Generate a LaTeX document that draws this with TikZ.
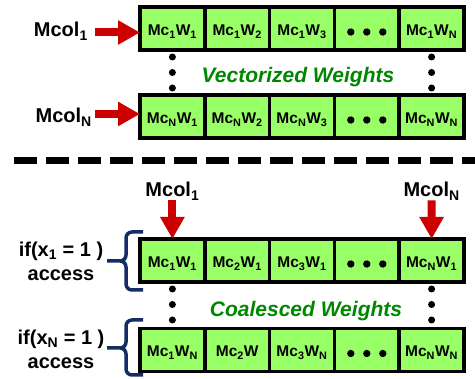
\documentclass[tikz,border=0pt]{standalone}
\usepackage{fontspec}
\setmainfont{Liberation Sans}
\usetikzlibrary{positioning,arrows.meta}
\definecolor{cellgreen}{HTML}{99FF66}
\definecolor{titlegreen}{RGB}{0,135,0}
\definecolor{arrowred}{HTML}{CC0000}
\definecolor{bracenavy}{RGB}{20,45,100}
\newcommand{\sbs}[1]{\textsubscript{#1}}

\begin{document}
\begin{tikzpicture}[x=1pt,y=-1pt,
    cell/.style={draw,line width=3.5pt,fill=cellgreen,minimum width=64.8pt,
        minimum height=43pt,inner sep=0pt,outer sep=0pt,text height=14pt,
        text depth=0pt,font=\bfseries\fontsize{15.5}{16}\selectfont},
    lbl/.style={inner sep=0pt,font=\bfseries\fontsize{20}{24}\selectfont},
    ttl/.style={inner sep=0pt,text=titlegreen,
        font=\bfseries\itshape\fontsize{21}{24}\selectfont},
    redarr/.style={draw=arrowred,line width=8pt,
        -{Triangle[width=23pt,length=22pt]}},
    brc/.style={draw=bracenavy,line width=3.5pt,rounded corners=6pt},
    sepline/.style={line width=7pt,dash pattern=on 23pt off 9pt}]
\useasboundingbox (0,0) rectangle (475,379);

% vectorized weights
\node[cell] (r1c1) at (172.4,28.5) {Mc\sbs{1}W\sbs{1}};
\node[cell,right=0pt of r1c1] (r1c2) {Mc\sbs{1}W\sbs{2}};
\node[cell,right=0pt of r1c2] (r1c3) {Mc\sbs{1}W\sbs{3}};
\node[cell,right=0pt of r1c3] (r1c4) {};
\node[cell,right=0pt of r1c4] (r1c5) {Mc\sbs{1}W\sbs{N}};

\node[cell] (r2c1) at (172.4,116.5) {Mc\sbs{N}W\sbs{1}};
\node[cell,right=0pt of r2c1] (r2c2) {Mc\sbs{N}W\sbs{2}};
\node[cell,right=0pt of r2c2] (r2c3) {Mc\sbs{N}W\sbs{3}};
\node[cell,right=0pt of r2c3] (r2c4) {};
\node[cell,right=0pt of r2c4] (r2c5) {Mc\sbs{N}W\sbs{N}};

\node[lbl,anchor=base east] (m1) at (88,37) {Mcol\sbs{1}};
\node[lbl,anchor=base east] (mN) at (92,123) {Mcol\sbs{N}};
\coordinate (a1) at (95,32.5);
\coordinate (aN) at (95,114);
\draw[redarr] (a1) -- (a1 -| r1c1.west);
\draw[redarr] (aN) -- (aN -| r2c1.west);

\node[ttl,anchor=base] (vt) at (298,83) {Vectorized Weights};

\draw[sepline] (14,161) -- (475,161);

% coalesced weights
\node[cell] (r3c1) at (172.4,260.5) {Mc\sbs{1}W\sbs{1}};
\node[cell,right=0pt of r3c1] (r3c2) {Mc\sbs{2}W\sbs{1}};
\node[cell,right=0pt of r3c2] (r3c3) {Mc\sbs{3}W\sbs{1}};
\node[cell,right=0pt of r3c3] (r3c4) {};
\node[cell,right=0pt of r3c4] (r3c5) {Mc\sbs{N}W\sbs{1}};

\node[cell] (r4c1) at (172.4,350) {Mc\sbs{1}W\sbs{N}};
\node[cell,right=0pt of r4c1] (r4c2) {Mc\sbs{2}W};
\node[cell,right=0pt of r4c2] (r4c3) {Mc\sbs{3}W\sbs{N}};
\node[cell,right=0pt of r4c3] (r4c4) {};
\node[cell,right=0pt of r4c4] (r4c5) {Mc\sbs{N}W\sbs{N}};

\node[lbl,anchor=base] (b1) at (172.4,197) {Mcol\sbs{1}};
\node[lbl,anchor=base] (bN) at (431.6,197) {Mcol\sbs{N}};
\draw[redarr] (b1.south) -- (r3c1.north);
\draw[redarr] (bN.south) -- (r3c5.north);

\node[ttl,anchor=base] (ct) at (306,317) {Coalesced Weights};

\node[lbl,align=center] (i1) at (61,261) {if(x\sbs{1} = 1 )\\access};
\node[lbl,align=center] (iN) at (61,349) {if(x\sbs{N} = 1 )\\access};
\draw[brc] (143,232) -- (126,232) -- (126,261) -- (107,261)
    (107,261) -- (126,261) -- (126,290) -- (143,290);
\draw[brc] (143,320) -- (126,320) -- (126,348) -- (107,348)
    (107,348) -- (126,348) -- (126,375) -- (143,375);

% dots
\foreach \row in {1,...,4}
  \foreach \dx in {-16,0,16}
    \fill (r\row c4.center) ++(\dx,3.5) circle (3.7pt);
\foreach \dy in {7,22.5,38} {
  \fill (r1c1.south) ++(0,\dy) circle (3.5pt);
  \fill (r1c5.south) ++(0,\dy) circle (3.5pt);
  \fill (r3c1.south) ++(0,\dy) circle (3.5pt);
  \fill (r3c5.south) ++(0,\dy) circle (3.5pt);
}
\end{tikzpicture}
\end{document}
